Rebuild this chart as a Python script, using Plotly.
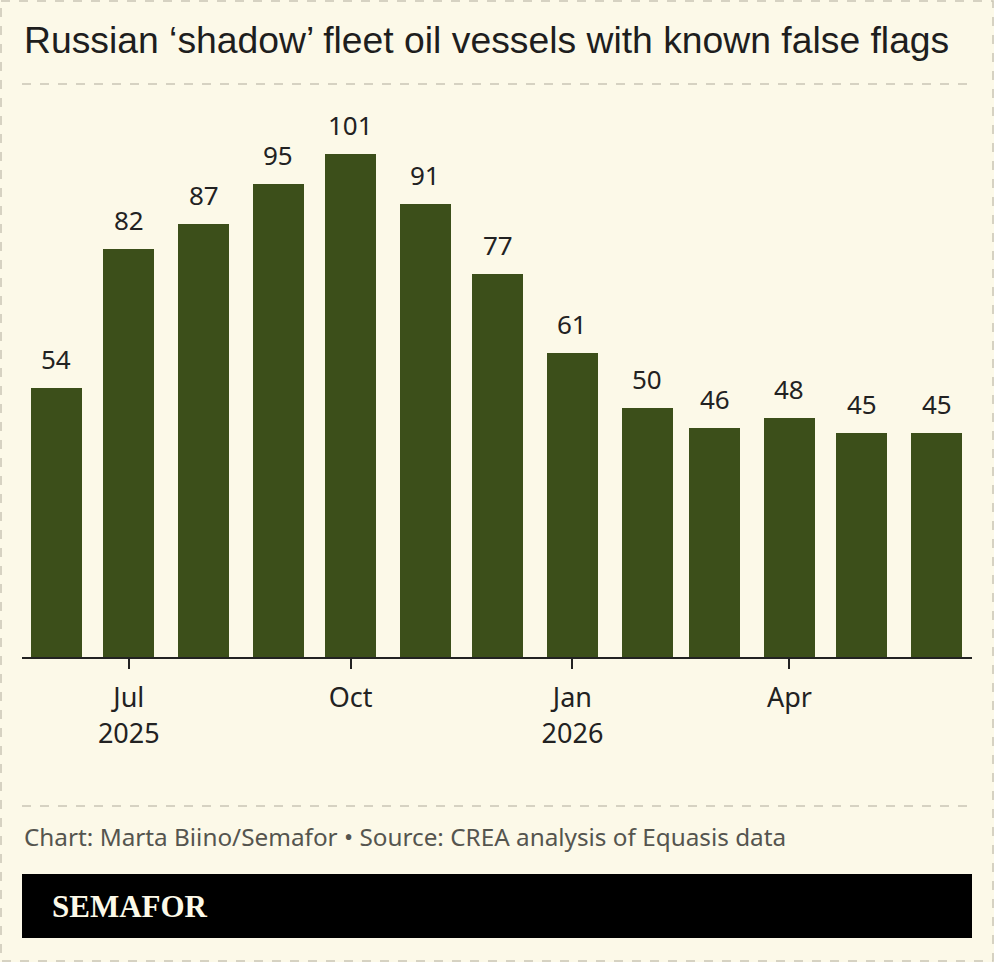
import plotly.graph_objects as go
import pandas as pd

months = ["2025-06-01", "2025-07-01", "2025-08-01", "2025-09-01", "2025-10-01",
          "2025-11-01", "2025-12-01", "2026-01-01", "2026-02-01", "2026-03-01",
          "2026-04-01", "2026-05-01", "2026-06-01"]
vessels = [54, 82, 87, 95, 101, 91, 77, 61, 50, 46, 48, 45, 45]
tick_dates = ["2025-07-01", "2025-10-01", "2026-01-01", "2026-04-01"]
tick_labels = ["Jul<br>2025", "Oct", "Jan<br>2026", "Apr"]

title = "Russian ‘shadow’ fleet oil vessels with known false flags"
source = "Chart: Marta Biino/Semafor • Source: CREA analysis of Equasis data"

W, H = 994, 962
ML, MR, MT, MB = 22, 22, 100, 305
PW, PH = W - ML - MR, H - MT - MB
BG = "#FCF9E8"
BAR = "#3C4F1A"

def px(x):
    return (x - ML) / PW

def py(y):
    return (H - MB - y) / PH

fig = go.Figure()
fig.add_trace(go.Bar(
    x=pd.to_datetime(months), y=vessels,
    marker=dict(color=BAR, line=dict(width=0)),
    width=21.2 * 86400000,
    hoverinfo="skip",
))

for m, v in zip(months, vessels):
    fig.add_annotation(x=m, y=v, xref="x", yref="y", text=str(v),
                       showarrow=False, yanchor="bottom", yshift=9,
                       font=dict(family="Noto Sans", size=26, color="#222222"))

shapes = [
    dict(type="rect", xref="paper", yref="paper", x0=px(1), x1=px(993), y0=py(1), y1=py(961),
         line=dict(color="#C9C5B5", width=1.5, dash="dash"), fillcolor="rgba(0,0,0,0)", layer="below"),
    dict(type="line", xref="paper", yref="paper", x0=px(22), x1=px(972), y0=py(84), y1=py(84),
         line=dict(color="#C9C5B5", width=1.5, dash="dash")),
    dict(type="line", xref="paper", yref="paper", x0=px(22), x1=px(972), y0=py(806), y1=py(806),
         line=dict(color="#C9C5B5", width=1.5, dash="dash")),
    dict(type="rect", xref="paper", yref="paper", x0=px(22), x1=px(972), y0=py(874), y1=py(938),
         line=dict(width=0), fillcolor="#000000"),
]

annotations = [
    dict(xref="paper", yref="paper", x=px(22), y=py(40), text=title, showarrow=False,
         xanchor="left", yanchor="middle",
         font=dict(family="Liberation Sans", size=37.3, color="#1E1E1E")),
    dict(xref="paper", yref="paper", x=px(22), y=py(836), text=source, showarrow=False,
         xanchor="left", yanchor="middle",
         font=dict(family="Noto Sans", size=24.3, color="#55554F")),
    dict(xref="paper", yref="paper", x=px(50), y=py(906), text="<b>SEMAFOR</b>", showarrow=False,
         xanchor="left", yanchor="middle",
         font=dict(family="Liberation Serif", size=31, color="#FCF9E8")),
]

fig.update_layout(
    width=W, height=H,
    margin=dict(l=ML, r=MR, t=MT, b=MB, pad=0),
    paper_bgcolor=BG, plot_bgcolor=BG,
    showlegend=False,
    bargap=0,
    shapes=shapes,
    annotations=fig.layout.annotations + tuple(annotations),
    xaxis=dict(
        type="date",
        range=["2025-05-17 17:00", "2026-06-15 17:00"],
        tickvals=tick_dates, ticktext=tick_labels,
        ticks="outside", ticklen=10, tickwidth=2, tickcolor="#222222",
        ticklabelstandoff=6,
        showline=True, linecolor="#222222", linewidth=2,
        showgrid=False, zeroline=False,
        tickfont=dict(family="Noto Sans", size=27, color="#222222"),
        fixedrange=True,
    ),
    yaxis=dict(
        range=[0, PH / 4.98],
        visible=False, showgrid=False, zeroline=False, fixedrange=True,
    ),
)

fig.write_html("out.html")
